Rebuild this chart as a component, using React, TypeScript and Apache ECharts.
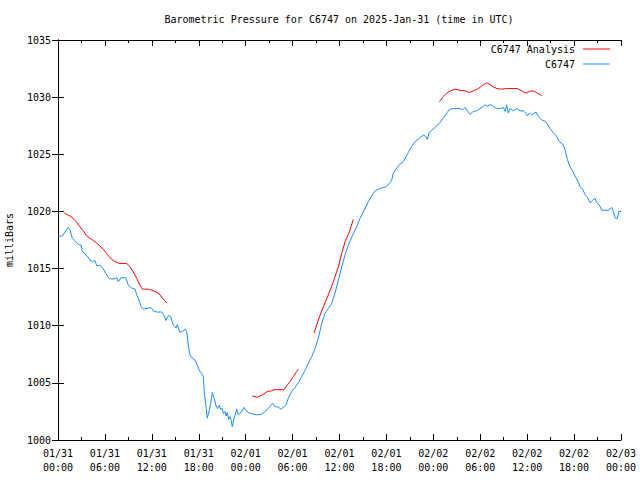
import React, { useEffect, useRef } from "react";
import * as echarts from "echarts";

const TITLE = "Barometric Pressure for C6747 on 2025-Jan-31 (time in UTC)";
const Y_NAME = "milliBars";
const SERIES_NAMES = ["C6747 Analysis", "C6747"];

// hours since 2025-01-31 00:00 UTC
const blueHours = [
  0.05, 0.55, 0.9, 1.32, 1.53, 1.83, 2.17, 2.6, 2.94, 3.11, 3.45, 3.67, 3.88, 4.09, 4.39, 4.73, 4.95, 5.37, 5.59, 5.79,
  6.01, 6.36, 6.65, 7.29, 7.51, 7.71, 8.06, 8.66, 8.99, 9.43, 9.85, 10.07, 10.36, 10.62, 10.91, 11.64, 11.89, 12.19,
  12.62, 13.26, 13.59, 13.81, 14.11, 14.41, 14.75, 15.09, 15.26, 15.6, 15.95, 16.28, 16.46, 16.66, 16.88, 17.18, 17.52,
  17.82, 18.07, 18.38, 18.58, 18.71, 18.93, 19.09, 19.35, 19.53, 19.73, 19.99, 20.21, 20.42, 20.63, 20.81, 21.01,
  21.14, 21.36, 21.49, 21.65, 21.83, 22.0, 22.13, 22.29, 22.51, 22.68, 22.85, 23.06, 23.4, 23.79, 24.04, 24.34, 24.77,
  25.41, 26.05, 26.47, 26.9, 27.2, 27.46, 27.75, 28.1, 28.52, 28.81, 29.16, 29.45, 29.89, 30.31, 30.73, 31.17, 31.59,
  32.01, 32.45, 32.87, 33.29, 33.73, 34.15, 34.57, 35.0, 35.43, 35.85, 36.28, 36.71, 37.13, 37.69, 38.2, 38.62, 39.14,
  39.68, 40.12, 40.54, 41.18, 41.6, 41.95, 42.37, 42.68, 42.88, 43.32, 43.74, 44.16, 44.51, 44.8, 45.24, 45.66, 46.21,
  46.72, 47.03, 47.23, 47.45, 47.79, 48.22, 48.77, 49.07, 49.37, 49.71, 50.04, 50.48, 50.99, 51.41, 51.76, 52.05,
  52.35, 52.69, 53.11, 53.55, 53.97, 54.32, 54.61, 54.9, 55.25, 55.67, 56.11, 56.62, 56.95, 57.17, 57.38, 57.59, 57.81,
  58.23, 58.66, 59.09, 59.51, 59.85, 60.02, 60.28, 60.58, 60.88, 61.13, 61.43, 61.86, 62.28, 62.58, 62.92, 63.35,
  63.78, 64.11, 64.55, 64.84, 65.14, 65.48, 65.83, 66.12, 66.42, 66.76, 67.11, 67.4, 67.7, 68.04, 68.33, 68.68, 68.89,
  69.23, 69.54, 69.96, 70.38, 70.81, 71.02, 71.27, 71.53, 71.71, 72.0,
];
const bluePressure = [
  1017.85, 1017.85, 1018.2, 1018.6, 1018.4, 1017.65, 1017.45, 1017.1, 1017.06, 1016.5, 1016.3, 1016.1, 1016.0, 1015.75,
  1015.6, 1015.7, 1015.25, 1015.3, 1015.15, 1015.0, 1014.7, 1014.3, 1014.1, 1014.1, 1014.2, 1013.85, 1014.2, 1014.2,
  1013.55, 1013.3, 1013.2, 1012.7, 1012.25, 1011.7, 1011.45, 1011.55, 1011.6, 1011.3, 1011.2, 1011.2, 1010.85, 1010.45,
  1010.9, 1010.8, 1010.05, 1009.8, 1010.1, 1009.4, 1009.55, 1009.7, 1009.5, 1008.3, 1007.45, 1007.15, 1007.0, 1006.55,
  1006.1, 1005.8, 1005.55, 1004.1, 1002.9, 1001.9, 1002.6, 1003.2, 1004.15, 1003.6, 1003.0, 1002.75, 1003.05, 1002.7,
  1002.75, 1002.3, 1002.5, 1002.1, 1002.4, 1001.8, 1002.05, 1001.75, 1001.15, 1001.9, 1002.25, 1002.7, 1002.2, 1002.4,
  1002.85, 1002.6, 1002.4, 1002.3, 1002.2, 1002.25, 1002.5, 1002.75, 1003.05, 1003.2, 1002.9, 1002.9, 1002.7, 1002.85,
  1003.05, 1003.65, 1004.25, 1004.6, 1005.0, 1005.55, 1006.1, 1006.7, 1007.3, 1008.0, 1008.9, 1010.2, 1011.1, 1011.5,
  1011.95, 1012.85, 1014.0, 1015.15, 1016.2, 1017.05, 1017.95, 1018.65, 1019.4, 1020.1, 1020.85, 1021.35, 1021.8,
  1022.0, 1022.1, 1022.15, 1022.45, 1022.75, 1023.35, 1023.8, 1024.15, 1024.35, 1024.8, 1025.15, 1025.7, 1026.1,
  1026.4, 1026.7, 1026.55, 1026.3, 1026.85, 1027.1, 1027.35, 1027.7, 1028.0, 1028.25, 1028.6, 1028.9, 1029.0, 1029.0,
  1029.0, 1028.9, 1029.1, 1028.8, 1028.5, 1028.75, 1028.8, 1029.0, 1029.15, 1029.35, 1029.2, 1029.35, 1029.2, 1029.0,
  1029.0, 1029.1, 1028.75, 1029.3, 1028.6, 1029.0, 1028.8, 1029.0, 1028.8, 1028.8, 1028.6, 1028.35, 1028.6, 1028.45,
  1028.6, 1028.7, 1028.3, 1028.0, 1027.9, 1027.65, 1027.25, 1026.9, 1026.55, 1026.1, 1025.9, 1025.4, 1024.55, 1023.9,
  1023.5, 1023.1, 1022.75, 1022.15, 1021.95, 1021.45, 1021.25, 1020.75, 1020.95, 1021.15, 1020.75, 1020.55, 1020.1,
  1020.1, 1020.1, 1020.35, 1020.0, 1019.4, 1019.4, 1020.0, 1020.0,
];

// Analysis segments
const redHours1 = [0.81, 1.24, 1.66, 2.08, 2.39, 2.81, 3.24, 3.67, 4.09, 4.51, 4.95, 5.37, 5.79, 6.23, 6.65, 7.07, 7.51, 7.93, 8.79, 9.21, 9.63, 10.07, 10.49, 10.78, 11.55, 11.98, 12.41, 12.92, 13.26, 13.9];
const redPressure1 = [1019.85, 1019.7, 1019.55, 1019.3, 1019.05, 1018.65, 1018.3, 1017.85, 1017.65, 1017.45, 1017.25, 1016.95, 1016.7, 1016.3, 1015.95, 1015.7, 1015.55, 1015.45, 1015.45, 1015.15, 1014.7, 1014.15, 1013.55, 1013.2, 1013.2, 1013.1, 1013.0, 1012.8, 1012.5, 1012.0];
const redHours2 = [24.85, 25.19, 25.49, 25.83, 26.26, 26.77, 27.33, 27.62, 28.9, 29.25, 29.67, 30.09, 30.53, 30.73];
const redPressure2 = [1003.85, 1003.8, 1003.75, 1003.85, 1004.0, 1004.25, 1004.3, 1004.4, 1004.4, 1004.75, 1005.1, 1005.55, 1006.0, 1006.2];
const redHours3 = [32.74, 33.29, 33.93, 34.57, 35.21, 35.85, 36.28, 36.71, 37.26, 37.77];
const redPressure3 = [1009.35, 1010.5, 1011.65, 1012.7, 1013.85, 1015.15, 1016.3, 1017.35, 1018.2, 1019.3];
const redHours4 = [48.77, 49.28, 49.71, 50.22, 50.77, 51.41, 52.05, 52.6, 53.11, 53.75, 54.32, 54.82, 55.25, 55.67, 56.11, 56.75, 57.38, 58.74, 59.3, 59.85, 60.28, 60.79, 61.3, 61.86];
const redPressure4 = [1029.6, 1030.05, 1030.35, 1030.55, 1030.7, 1030.6, 1030.55, 1030.4, 1030.55, 1030.75, 1031.05, 1031.25, 1031.1, 1030.9, 1030.75, 1030.7, 1030.75, 1030.75, 1030.55, 1030.35, 1030.5, 1030.55, 1030.35, 1030.15];

const X_MIN = 0;
const X_MAX = 72;
const X_STEP = 6;
const Y_MIN = 1000;
const Y_MAX = 1035;
const Y_STEP = 5;

const FONT = "'DejaVu Sans Mono', 'Liberation Mono', monospace";
const BLUE = "#1a8cff";
const RED = "#ff0000";

function pad(n: number) {
  return n < 10 ? "0" + n : String(n);
}
function fmtTime(h: number) {
  const d = new Date(Date.UTC(2025, 0, 31) + h * 3600 * 1000);
  return `${pad(d.getUTCMonth() + 1)}/${pad(d.getUTCDate())}\n${pad(d.getUTCHours())}:${pad(d.getUTCMinutes())}`;
}

export default function App() {
  const ref = useRef<HTMLDivElement>(null);
  useEffect(() => {
    if (!ref.current) return;
    const chart = echarts.init(ref.current, null, { renderer: "svg" });
    const blueData = blueHours.map((h, i) => [h, bluePressure[i]]);
    const segs = [
      [redHours1, redPressure1],
      [redHours2, redPressure2],
      [redHours3, redPressure3],
      [redHours4, redPressure4],
    ];
    const redData: any[] = [];
    segs.forEach(([hs, ps], si) => {
      if (si > 0) redData.push([(hs[0] as number) - 0.5, "-"]);
      hs.forEach((h, i) => redData.push([h, ps[i]]));
    });
    const axisLine = { show: true, lineStyle: { color: "#000", width: 1 } };
    const xBase = {
      type: "value",
      min: X_MIN,
      max: X_MAX,
      interval: X_STEP,
      axisLine,
      axisTick: { show: true, inside: true, length: 6, lineStyle: { color: "#000" } },
      minorTick: { show: true, splitNumber: 2, length: 3, lineStyle: { color: "#000" } },
      splitLine: { show: false },
      minorSplitLine: { show: false },
    };
    const yBase = {
      type: "value",
      min: Y_MIN,
      max: Y_MAX,
      interval: Y_STEP,
      axisLine,
      axisTick: { show: true, inside: true, length: 6, lineStyle: { color: "#000" } },
      splitLine: { show: false },
    };
    chart.setOption({
      animation: false,
      backgroundColor: "#fff",
      grid: {
        left: 58,
        right: 19,
        top: 40,
        bottom: 40,
        show: false,
        containLabel: false,
        outerBoundsMode: "none",
      },
      graphic: [
        {
          type: "text",
          x: 339,
          y: 19,
          style: {
            text: TITLE,
            align: "center",
            verticalAlign: "middle",
            font: `10px ${FONT}`,
            fill: "#000",
          },
        },
      ],
      legend: {
        orient: "vertical",
        right: 30,
        top: 43,
        align: "right",
        padding: 0,
        icon: "rect",
        itemWidth: 27,
        itemHeight: 1,
        itemGap: 3,
        data: SERIES_NAMES,
        textStyle: { fontFamily: FONT, fontSize: 10, color: "#000", lineHeight: 12, padding: [0, 3, 0, 0] },
      },
      xAxis: [
        {
          ...xBase,
          position: "bottom",
          axisLabel: {
            show: true,
            formatter: (v: number) => fmtTime(v),
            fontFamily: FONT,
            fontSize: 10,
            color: "#000",
            lineHeight: 14,
            margin: 6,
          },
        },
        { ...xBase, position: "top", axisLabel: { show: false } },
      ],
      yAxis: [
        {
          ...yBase,
          position: "left",
          name: Y_NAME,
          nameLocation: "middle",
          nameRotate: 90,
          nameGap: 44,
          nameTextStyle: { fontFamily: FONT, fontSize: 10, color: "#000" },
          axisLabel: {
            formatter: (v: number) => String(v),
            fontFamily: FONT,
            fontSize: 10,
            color: "#000",
            margin: 7,
          },
        },
        { ...yBase, position: "right", axisLabel: { show: false } },
      ],
      series: [
        {
          name: SERIES_NAMES[0],
          type: "line",
          data: redData,
          showSymbol: false,
          symbol: "none",
          connectNulls: false,
          lineStyle: { color: RED, width: 1 },
          itemStyle: { color: RED },
        },
        {
          name: SERIES_NAMES[1],
          type: "line",
          data: blueData,
          showSymbol: false,
          symbol: "none",
          lineStyle: { color: BLUE, width: 1 },
          itemStyle: { color: BLUE },
        },
      ],
    });
    return () => chart.dispose();
  }, []);
  return (
    <div
      ref={ref}
      style={{ position: "fixed", left: 0, top: 0, width: 640, height: 480, background: "#fff" }}
    />
  );
}
